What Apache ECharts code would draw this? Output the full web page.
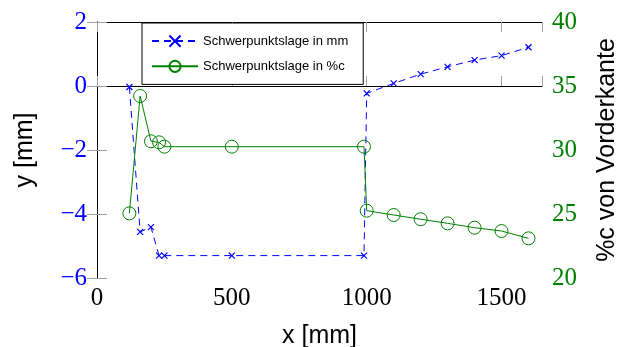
<!DOCTYPE html>
<html>
<head>
<meta charset="utf-8">
<script src="https://cdn.jsdelivr.net/npm/echarts@6/dist/echarts.min.js"></script>
<style>
    html, body { margin: 0; padding: 0; background: #fff; }
    #chart { width: 619px; height: 347px; }
</style>
</head>
<body>
<div id="chart"></div>
<script>
// Schwerpunktslage in mm (linke Achse)
var mmX = [120, 160, 200, 230, 250, 500, 990, 1000, 1100, 1200, 1300, 1400, 1500, 1600];
var mmY = [-0.03, -4.56, -4.41, -5.3, -5.3, -5.3, -5.3, -0.23, 0.08, 0.37, 0.6, 0.81, 0.95, 1.21];

// Schwerpunktslage in %c (rechte Achse)
var pctX = [120, 160, 200, 230, 250, 500, 990, 1000, 1100, 1200, 1300, 1400, 1500, 1600];
var pctY = [25.05, 34.22, 30.68, 30.6, 30.26, 30.26, 30.26, 25.26, 24.92, 24.59, 24.27, 23.93, 23.67, 23.1];

var xTicks = [0, 500, 1000, 1500];

var BLUE = '#0000ff';
var GREEN = '#008000';
var TICK_GRAY = '#a0a0a0';
var SERIF = '"Liberation Serif", "DejaVu Serif", serif';
var SANS = '"Liberation Sans", Arial, sans-serif';

function zip(xs, ys) {
    return xs.map(function(x, i) { return [x, ys[i]]; });
}

var crossPath = 'path://M0,0L10,10M10,0L0,10';

var chart = echarts.init(document.getElementById('chart'), null, { renderer: 'canvas' });

var option = {
    animation: false,
    grid: { left: 97, right: 77, top: 22, bottom: 69, containLabel: false, outerBoundsMode: 'none' },
    legend: {
        orient: 'vertical',
        left: 142,
        top: 23,
        padding: [10, 15, 10, 9],
        itemWidth: 46,
        itemHeight: 14,
        itemGap: 9,
        borderColor: '#000',
        borderWidth: 1,
        backgroundColor: '#fff',
        z: 10,
        textStyle: { fontFamily: SANS, fontSize: 13, color: '#000' },
        data: ['Schwerpunktslage in mm', 'Schwerpunktslage in %c']
    },
    xAxis: [{
        type: 'value',
        min: 0,
        max: 1650,
        interval: 500,
        position: 'bottom',
        name: 'x [mm]',
        nameLocation: 'middle',
        nameGap: 46,
        nameTextStyle: { fontFamily: SANS, fontSize: 25, color: '#000' },
        axisLine: { show: true, lineStyle: { color: '#000', width: 1 } },
        axisTick: { show: true, inside: true, length: 10, lineStyle: { color: TICK_GRAY } },
        axisLabel: {
            fontFamily: SERIF, fontSize: 25, color: '#000', margin: 8,
            formatter: function(v) { return xTicks.indexOf(v) >= 0 ? String(v) : ''; }
        },
        splitLine: { show: false }
    }, {
        type: 'value',
        min: 0,
        max: 1650,
        interval: 500,
        position: 'top',
        axisLine: { show: true, lineStyle: { color: '#000', width: 1 } },
        axisTick: { show: true, inside: true, length: 10, lineStyle: { color: TICK_GRAY } },
        axisLabel: { show: false },
        splitLine: { show: false }
    }],
    yAxis: [{
        type: 'value',
        min: -6,
        max: 2,
        interval: 2,
        position: 'left',
        name: 'y [mm]',
        nameLocation: 'middle',
        nameGap: 59,
        nameTextStyle: { fontFamily: SANS, fontSize: 25, color: '#000' },
        axisLine: { show: true, lineStyle: { color: '#000', width: 1 } },
        axisTick: { show: true, inside: true, length: 10, lineStyle: { color: TICK_GRAY } },
        axisLabel: {
            fontFamily: SERIF, fontSize: 25, color: BLUE, margin: 10,
            formatter: function(v) { return v < 0 ? '\u2212' + Math.abs(v) : String(v); }
        },
        splitLine: { show: false }
    }, {
        type: 'value',
        min: 20,
        max: 40,
        interval: 5,
        position: 'right',
        name: '%c von Vorderkante',
        nameLocation: 'middle',
        nameGap: 53,
        nameRotate: 90,
        nameTextStyle: { fontFamily: SANS, fontSize: 25, color: '#000' },
        axisLine: { show: true, lineStyle: { color: '#000', width: 1 } },
        axisTick: { show: true, inside: true, length: 10, lineStyle: { color: TICK_GRAY } },
        axisLabel: { fontFamily: SERIF, fontSize: 25, color: GREEN, margin: 10 },
        splitLine: { show: false }
    }],
    series: [{
        name: 'Schwerpunktslage in mm',
        type: 'line',
        xAxisIndex: 0,
        yAxisIndex: 0,
        data: zip(mmX, mmY),
        symbol: crossPath,
        symbolSize: 6,
        showAllSymbol: true,
        color: BLUE,
        itemStyle: { color: 'none', borderColor: BLUE, borderWidth: 1.2 },
        lineStyle: { color: BLUE, width: 1, type: [7, 5] },
        z: 2
    }, {
        name: 'Schwerpunktslage in %c',
        type: 'line',
        xAxisIndex: 0,
        yAxisIndex: 1,
        data: zip(pctX, pctY),
        symbol: 'circle',
        symbolSize: 13,
        showAllSymbol: true,
        color: GREEN,
        itemStyle: { color: 'none', borderColor: GREEN, borderWidth: 1 },
        lineStyle: { color: GREEN, width: 1 },
        z: 3
    }]
};

chart.setOption(option);
</script>
</body>
</html>
